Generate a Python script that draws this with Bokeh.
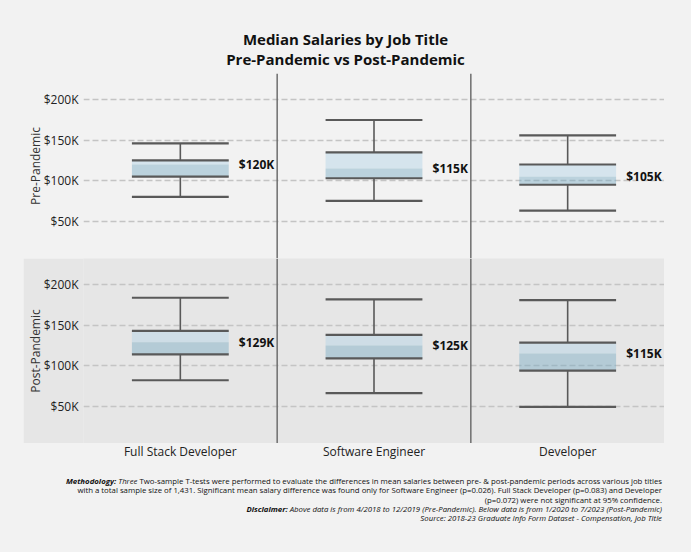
from bokeh.plotting import figure
from bokeh.models import Range1d, FactorRange, Span, Div, ColumnDataSource, FixedTicker
from bokeh.transform import dodge
from bokeh.layouts import column
from bokeh.embed import file_html
from bokeh.resources import INLINE
from bokeh.core.properties import value

# ---------------- data ----------------
jobs = ["Full Stack Developer", "Software Engineer", "Developer"]

pre_low = [80000, 75000, 63000]
pre_q1 = [105000, 103000, 95000]
pre_med = [120000, 115000, 105000]
pre_q3 = [125000, 135000, 120000]
pre_high = [146000, 175000, 156000]

post_low = [82000, 66000, 49000]
post_q1 = [114000, 109000, 94000]
post_med = [129000, 125000, 115000]
post_q3 = [143000, 138000, 128500]
post_high = [184000, 182000, 181000]

tick_values = [50000, 100000, 150000, 200000]
tick_labels = ["$50K", "$100K", "$150K", "$200K"]

FONT = "Open Sans"
PAGE_BG = "#f2f2f2"
PANEL_BG = "#e6e6e6"
LINE = "#595959"
BORDER_L = 59
MARGIN_L = 82 - 8 - BORDER_L

xr = FactorRange(*jobs, range_padding=0)


def panel(low, q1, med, q3, high, ylabel, bg):
    src = ColumnDataSource(dict(job=jobs, low=low, q1=q1, med=med, q3=q3, high=high,
                                label=["$%dK" % (m // 1000) for m in med]))
    p = figure(x_range=xr, y_range=Range1d(3800, 232500),
               frame_width=581, frame_height=185,
               min_border_left=BORDER_L, min_border_right=0, min_border_top=0, min_border_bottom=0,
               background_fill_color=bg, border_fill_color=bg, outline_line_color=None,
               output_backend="svg", toolbar_location=None, margin=(0, 0, 0, MARGIN_L))
    p.xaxis.visible = False
    p.xgrid.grid_line_color = None
    p.ygrid.grid_line_color = "#c4c4c4"
    p.ygrid.grid_line_width = 1.5
    p.ygrid.grid_line_dash = "6 3"
    p.yaxis.ticker = FixedTicker(ticks=tick_values)
    p.yaxis.major_label_overrides = dict(zip(tick_values, tick_labels))
    p.yaxis.axis_line_color = None
    p.yaxis.major_tick_line_color = None
    p.yaxis.minor_tick_line_color = None
    p.yaxis.major_tick_out = 0
    p.yaxis.major_tick_in = 0
    p.yaxis.minor_tick_out = 0
    p.yaxis.major_label_standoff = 5
    p.yaxis.major_label_text_font = FONT
    p.yaxis.major_label_text_font_size = "12px"
    p.yaxis.major_label_text_color = "#222222"
    p.yaxis.axis_label = ylabel
    p.yaxis.axis_label_text_font = FONT
    p.yaxis.axis_label_text_font_style = "normal"
    p.yaxis.axis_label_text_font_size = "12px"
    p.yaxis.axis_label_text_color = "#333333"
    p.yaxis.axis_label_standoff = -3

    for loc in (1, 2):
        p.add_layout(Span(location=loc, dimension="height", line_color="#6e6e6e", line_width=1.5))

    # boxes
    p.vbar(x="job", bottom="med", top="q3", width=0.5, source=src,
           fill_color="#afd1e8", fill_alpha=0.42, line_color=None)
    p.vbar(x="job", bottom="q1", top="med", width=0.5, source=src,
           fill_color="#71a6c2", fill_alpha=0.42, line_color=None)
    left = dodge("job", -0.25, range=xr)
    right = dodge("job", 0.25, range=xr)
    for col in ("low", "high", "q1", "q3"):
        p.segment(x0=left, x1=right, y0=col, y1=col, source=src,
                  line_color=LINE, line_width=2.2)
    p.segment(x0="job", x1="job", y0="low", y1="q1", source=src, line_color=LINE, line_width=1.6)
    p.segment(x0="job", x1="job", y0="q3", y1="high", source=src, line_color=LINE, line_width=1.6)
    p.text(x=dodge("job", 0.485, range=xr), y="med", text="label", source=src,
           text_align="right", text_baseline="middle", text_font=value(FONT),
           text_font_style="bold", text_font_size="12px", text_color="#111111")
    return p


top = panel(pre_low, pre_q1, pre_med, pre_q3, pre_high, "Pre-Pandemic", PAGE_BG)
bottom = panel(post_low, post_q1, post_med, post_q3, post_high, "Post-Pandemic", PANEL_BG)

# category labels
cat = figure(x_range=xr, y_range=Range1d(0, 20), frame_width=581, frame_height=20,
             min_border_left=BORDER_L, min_border_right=0, min_border_top=0, min_border_bottom=0,
             background_fill_color=PAGE_BG, border_fill_color=PAGE_BG, outline_line_color=None,
             output_backend="svg", toolbar_location=None, margin=(0, 0, 0, MARGIN_L))
cat.axis.visible = False
cat.grid.visible = False
cat.text(x=jobs, y=[12] * len(jobs), text=jobs, text_align="center", text_baseline="middle",
         text_font=value(FONT), text_font_size="12px", text_color="#222222")

title = Div(text="Median Salaries by Job Title<br>Pre-Pandemic vs Post-Pandemic",
            width=675, height=65, margin=0,
            styles={"text-align": "center", "font-family": FONT, "font-weight": "bold",
                    "font-size": "15px", "line-height": "20px", "color": "#111111",
                    "padding-top": "21px", "box-sizing": "border-box"})

footer_html = (
    "<b><i>Methodology:</i></b> <i>Three</i> Two-sample T-tests were performed to evaluate the differences "
    "in mean salaries between pre- &amp; post-pandemic periods across various job titles<br>"
    "with a total sample size of 1,431. Significant mean salary difference was found only for Software "
    "Engineer (p=0.026). Full Stack Developer (p=0.083) and Developer<br>"
    "(p=0.072) were not significant at 95% confidence.<br>"
    "<b><i>Disclaimer:</i></b> <i>Above data is from 4/2018 to 12/2019 (Pre-Pandemic). Below data is from "
    "1/2020 to 7/2023 (Post-Pandemic)</i><br>"
    "<i>Source: 2018-23 Graduate Info Form Dataset - Compensation, Job Title</i>"
)
footer = Div(text=footer_html, width=654, height=64, margin=0,
             styles={"text-align": "right", "font-family": FONT, "font-size": "7.8px",
                     "line-height": "9.3px", "color": "#111111", "white-space": "nowrap",
                     "padding-top": "14px", "box-sizing": "border-box"})

layout = column(title, top, bottom, cat, footer, spacing=0, styles={"background": PAGE_BG})

html = file_html(layout, INLINE)
html = html.replace("</head>", "<style>html,body{background:#f2f2f2;margin:0;padding:0;}body{padding:8px !important;}</style></head>", 1)
open("out.html", "w").write(html)
